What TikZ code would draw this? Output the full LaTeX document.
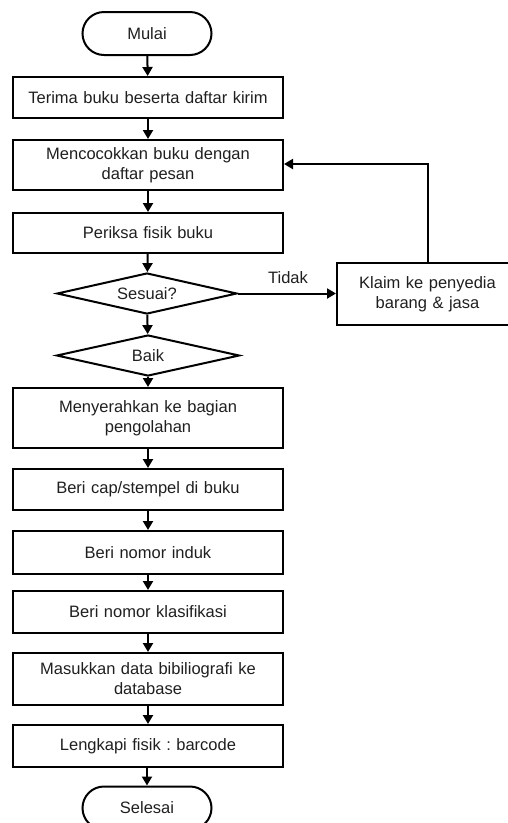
\documentclass[tikz,border=0pt]{standalone}
\usepackage{fontspec}
\setmainfont{Liberation Sans}
\frenchspacing
\usetikzlibrary{shapes.geometric,shapes.misc,arrows.meta}
\begin{document}
\begin{tikzpicture}[x=1pt,y=-1pt,
  every node/.style={font=\fontsize{16.5}{20}\selectfont, text=black!88},
  procbox/.style={draw, line width=2pt, minimum width=270pt, text width=250pt, align=center, inner sep=0pt},
  termbox/.style={draw, line width=2pt, rounded rectangle, minimum width=129pt, minimum height=43pt, inner sep=0pt},
  decbox/.style={draw, line width=2pt, diamond, aspect=4.4, inner sep=0pt, minimum height=41pt},
  flow/.style={line width=2pt, -{Triangle[length=9pt,width=10pt]}}]
\useasboundingbox (0,0) rectangle (507,823);
\node[termbox] (mulai) at (147,33.5) {Mulai};
\node[procbox, minimum height=41pt] (terima) at (148,97.5) {Terima buku beserta daftar kirim};
\node[procbox, minimum height=50pt] (cocok) at (148,165) {Mencocokkan buku dengan\\daftar pesan};
\node[procbox, minimum height=40pt] (periksa) at (148,233) {Periksa fisik buku};
\node[decbox, minimum width=180pt] (sesuai) at (147,293.5) {Sesuai?};
\node[decbox, minimum width=183pt] (baik) at (148,355.5) {Baik};
\node[procbox, minimum height=60pt] (serah) at (148,418) {Menyerahkan ke bagian\\pengolahan};
\node[procbox, minimum height=41pt] (cap) at (148,489.5) {Beri cap/stempel di buku};
\node[procbox, minimum height=43pt] (induk) at (148,552.5) {Beri nomor induk};
\node[procbox, minimum height=42pt] (klas) at (148,612) {Beri nomor klasifikasi};
\node[procbox, minimum height=52pt] (masuk) at (148,679) {Masukkan data bibiliografi ke\\database};
\node[procbox, minimum height=42pt] (lengkap) at (148,746) {Lengkapi fisik : barcode};
\node[termbox] (selesai) at (147,808) {Selesai};
\node[draw, line width=2pt, minimum width=181pt, minimum height=62pt, text width=170pt, align=center, inner sep=0pt] (klaim) at (427.5,294) {Klaim ke penyedia\\barang \& jasa};
\node (tidak) at (288,278) {Tidak};
\coordinate (corner) at (427.5,164);
\draw[flow] (mulai) -- (terima);
\draw[flow] (terima) -- (cocok);
\draw[flow] (cocok) -- (periksa);
\draw[flow] (periksa) -- (sesuai);
\draw[flow] (sesuai) -- (baik);
\draw[flow] (baik) -- (serah);
\draw[flow] (serah) -- (cap);
\draw[flow] (cap) -- (induk);
\draw[flow] (induk) -- (klas);
\draw[flow] (klas) -- (masuk);
\draw[flow] (masuk) -- (lengkap);
\draw[flow] (lengkap.south -| selesai) -- (selesai);
\draw[flow] (sesuai.east) -- (sesuai.east -| klaim.west);
\draw[flow] (klaim.north) -- (corner) -- (corner -| cocok.east);
\end{tikzpicture}
\end{document}
